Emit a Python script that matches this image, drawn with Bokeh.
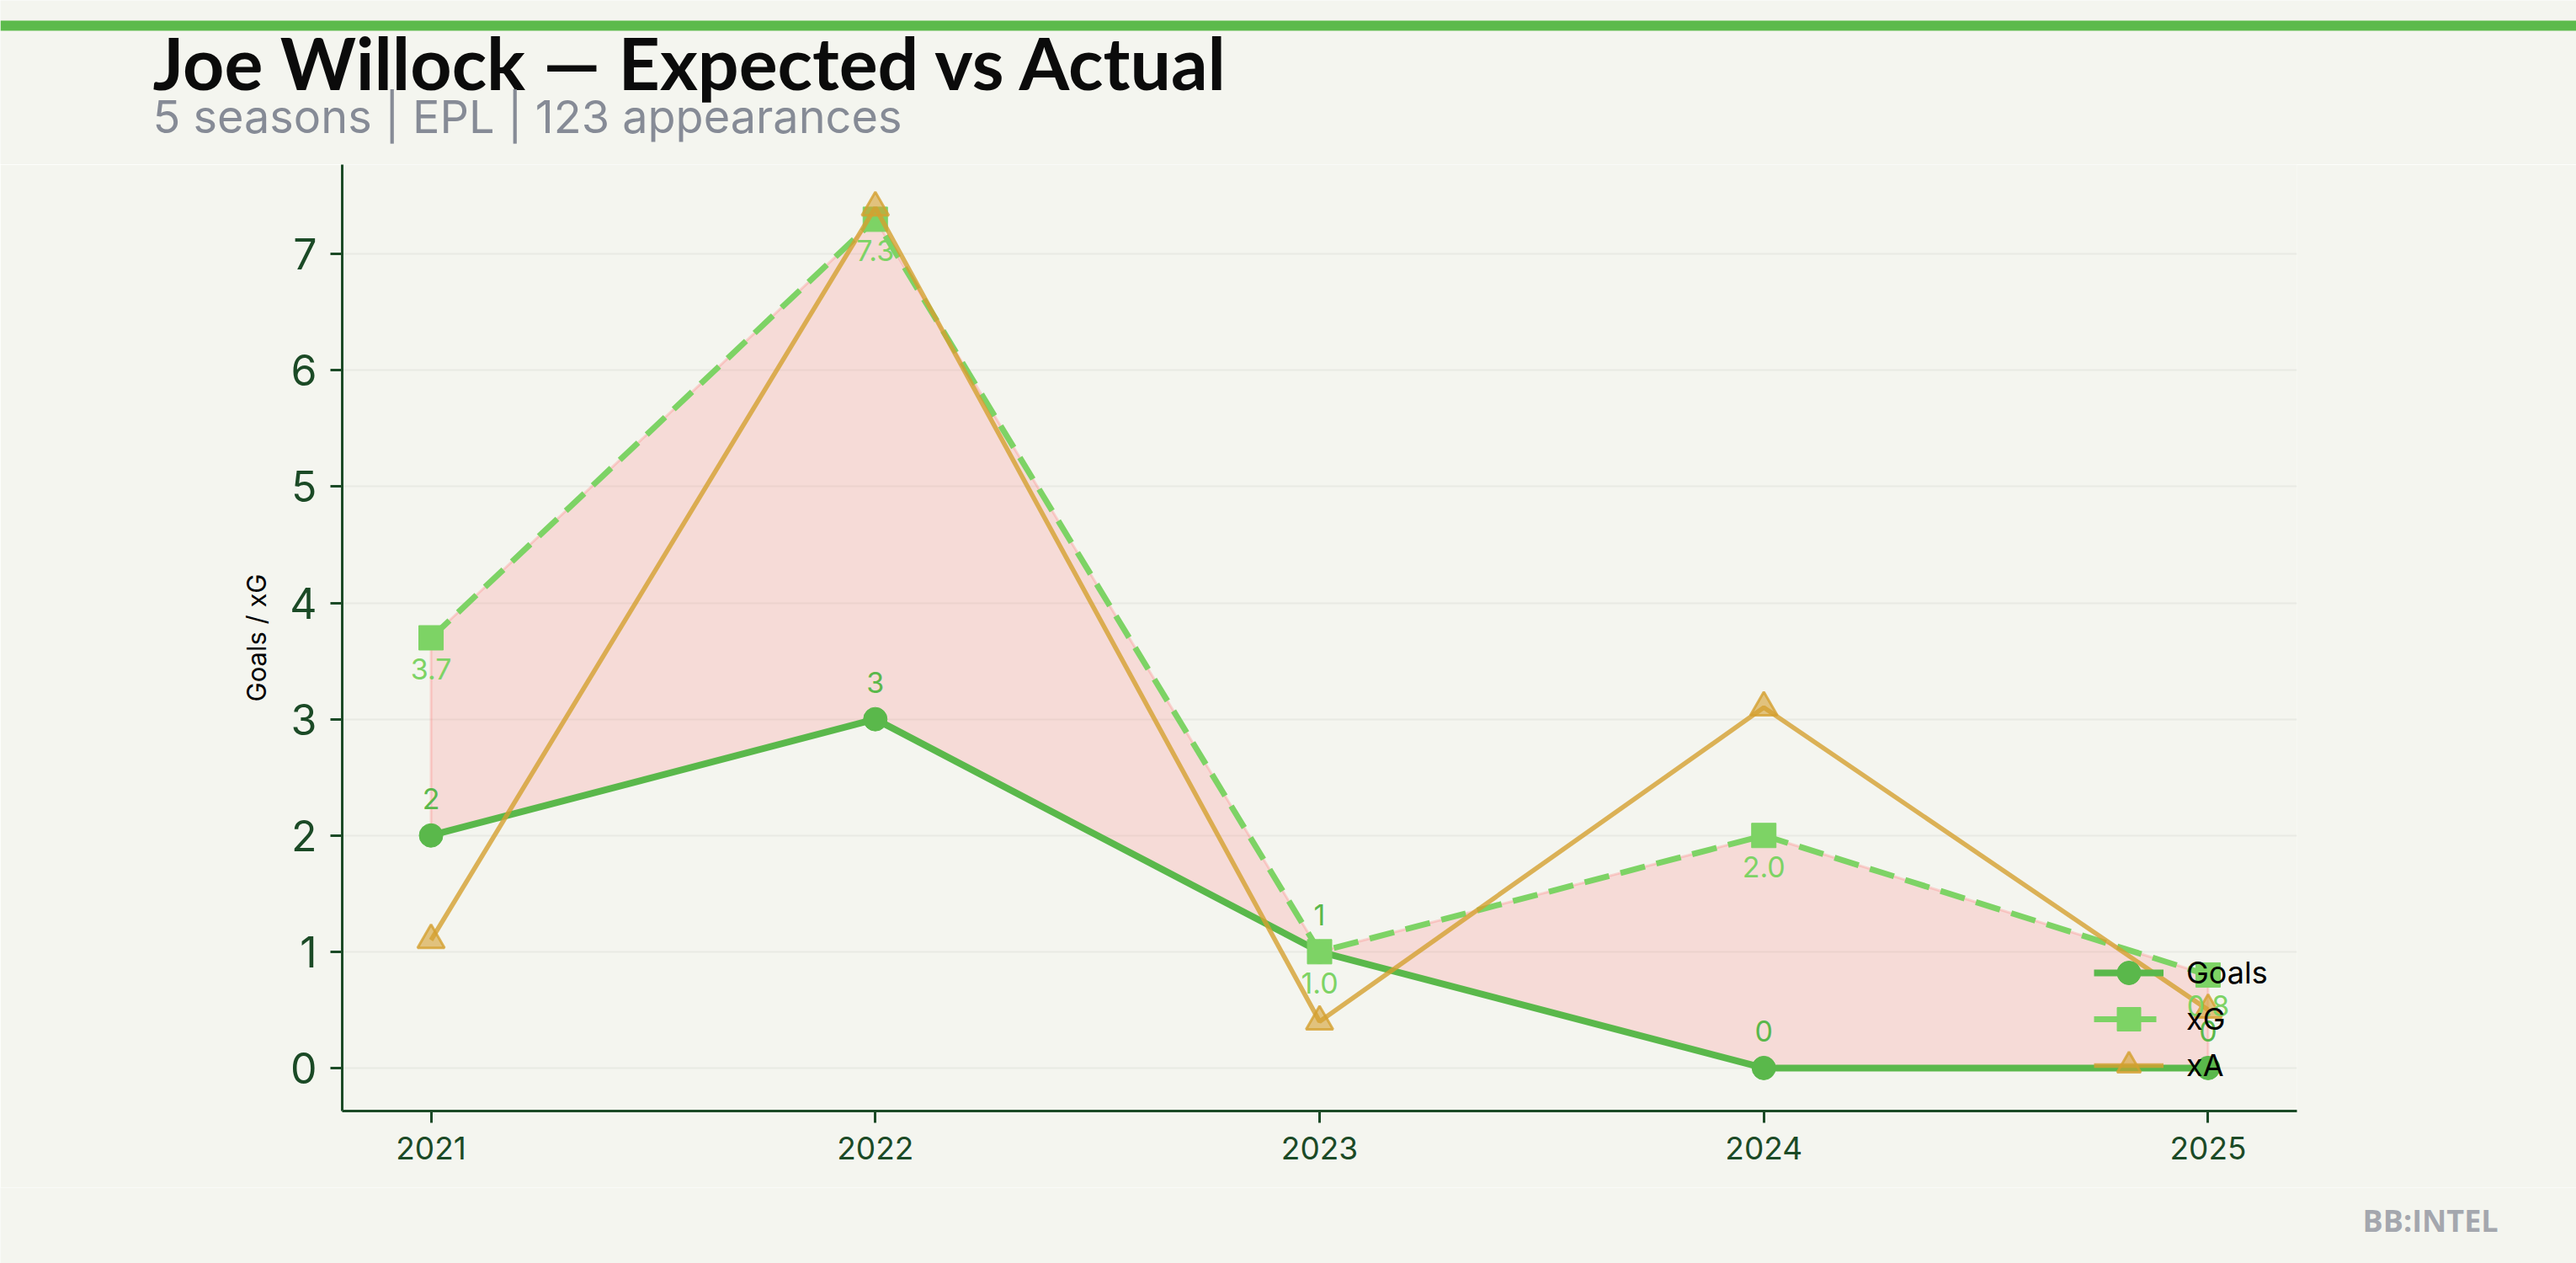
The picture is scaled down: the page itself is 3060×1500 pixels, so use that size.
from bokeh.plotting import figure
from bokeh.layouts import column
from bokeh.models import (Range1d, FixedTicker, Label, LabelSet, ColumnDataSource,
                          Legend, LegendItem)
from bokeh.core.properties import value
from bokeh.embed import file_html
from bokeh.resources import INLINE

# ---- data ----
seasons = [2021, 2022, 2023, 2024, 2025]
goals = [2, 3, 1, 0, 0]
xg = [3.7, 7.3, 1.0, 2.0, 0.8]
xa = [1.1, 7.4, 0.4, 3.1, 0.5]
y_ticks = [0, 1, 2, 3, 4, 5, 6, 7]
title_text = "Joe Willock \u2014 Expected vs Actual"
subtitle_text = "5 seasons | EPL | 123 appearances"
y_label = "Goals / xG"
series_names = ["Goals", "xG", "xA"]
watermark = "BB:INTEL"

BG = "#f4f5ef"
AXC = "#1b4a26"
C_GOALS = "#5ab84b"
C_XG = "#7dd365"
C_XA = "#d4a030"

W = 3060
H_HEAD, H_MAIN, H_FOOT = 195, 1215, 90


def blank(h):
    f = figure(width=W, height=h, output_backend="svg", toolbar_location=None,
               x_range=Range1d(0, W), y_range=Range1d(0, h),
               x_axis_type=None, y_axis_type=None, title=None,
               min_border=0, min_border_left=0, min_border_right=0,
               min_border_top=0, min_border_bottom=0)
    f.frame_align = False
    f.background_fill_color = BG
    f.border_fill_color = BG
    f.outline_line_color = None
    f.xgrid.visible = False
    f.ygrid.visible = False
    return f


# ---- header: accent bar, title, subtitle ----
head = blank(H_HEAD)
head.quad(left=[0], right=[W], bottom=[H_HEAD - 36], top=[H_HEAD - 24],
          fill_color="#5cba4c", line_color=None)
head.add_layout(Label(x=181, y=122, text=title_text, text_font="Lato",
                      text_font_style="bold", text_font_size="86px", text_color="#0b0b0b",
                      text_baseline="alphabetic", text_align="left"))
head.add_layout(Label(x=181, y=57, text=subtitle_text, text_font="Inter",
                      text_font_size="54px", text_color="#868b96",
                      text_baseline="alphabetic", text_align="left"))

# ---- main chart ----
p = figure(width=W, height=H_MAIN, output_backend="svg", toolbar_location=None, title=None,
           x_range=Range1d(2020.8, 2025.2), y_range=Range1d(-0.37, 7.77),
           min_border_left=406, min_border_right=332, min_border_top=0,
           min_border_bottom=91)
p.frame_align = False
p.background_fill_color = BG
p.border_fill_color = BG
p.outline_line_color = None

for ax in (p.xaxis[0], p.yaxis[0]):
    ax.axis_line_color = AXC
    ax.axis_line_width = 3
    ax.major_tick_line_color = AXC
    ax.major_tick_line_width = 3
    ax.major_tick_out = 14
    ax.major_tick_in = 0
    ax.minor_tick_line_color = None
    ax.major_label_text_color = AXC
    ax.major_label_text_font = "Inter"
    ax.major_label_standoff = 16
p.xaxis.ticker = FixedTicker(ticks=seasons)
p.xaxis.major_label_overrides = {s: str(s) for s in seasons}
p.xaxis.major_label_text_font_size = "37px"
p.yaxis.ticker = FixedTicker(ticks=y_ticks)
p.yaxis.major_label_text_font_size = "50px"
p.yaxis.axis_label = y_label
p.yaxis.axis_label_text_font = "Inter"
p.yaxis.axis_label_text_font_size = "31px"
p.yaxis.axis_label_text_font_style = "normal"
p.yaxis.axis_label_text_color = "black"
p.yaxis.axis_label_standoff = 18
p.xgrid.grid_line_color = None
p.ygrid.grid_line_color = "#e8eae3"
p.ygrid.grid_line_width = 2

# fill between goals and xG
p.patch(seasons + seasons[::-1], xg + goals[::-1], fill_color="#ff6b6b", fill_alpha=0.18,
        line_color="#ff6b6b", line_alpha=0.25, line_width=3)

r_gl = p.line(seasons, goals, line_color=C_GOALS, line_width=8)
r_gs = p.scatter(seasons, goals, marker="circle", size=28, fill_color=C_GOALS, line_color=C_GOALS)
r_xl = p.line(seasons, xg, line_color=C_XG, line_width=7, line_dash="30 14")
r_xs = p.scatter(seasons, xg, marker="square", size=29, fill_color=C_XG, line_color=C_XG)
r_al = p.line(seasons, xa, line_color=C_XA, line_alpha=0.8, line_width=5.5)
r_as = p.scatter(seasons, xa, marker="triangle", size=32, fill_color=C_XA, fill_alpha=0.6,
                 line_color=C_XA, line_alpha=0.8, line_width=3)

src = ColumnDataSource(dict(x=seasons, g=goals, xg=xg,
                            gl=[str(v) for v in goals], xgl=["%.1f" % v for v in xg]))
p.add_layout(LabelSet(x="x", y="g", text="gl", source=src, y_offset=44,
                      text_align="center", text_baseline="middle",
                      text_font=value("Inter"), text_font_size="34px", text_color=C_GOALS))
p.add_layout(LabelSet(x="x", y="xg", text="xgl", source=src, y_offset=-37,
                      text_align="center", text_baseline="middle",
                      text_font=value("Inter"), text_font_size="34px", text_color=C_XG))

# one legend per entry so rows can sit closer than the glyph box height
renderer_pairs = [[r_gl, r_gs], [r_xl, r_xs], [r_al, r_as]]
legend_bottoms = [129, 74, 19]
for name, rs, vy in zip(series_names, renderer_pairs, legend_bottoms):
    lg = Legend(items=[LegendItem(label=name, renderers=rs)],
                location=(2081, vy), background_fill_alpha=0, border_line_alpha=0,
                glyph_width=83, glyph_height=70, label_height=70, spacing=0,
                padding=0, margin=0, label_standoff=27,
                label_text_font="Inter", label_text_font_size="36px",
                label_text_color="black")
    p.add_layout(lg)

# ---- footer: watermark ----
foot = blank(H_FOOT)
foot.add_layout(Label(x=2806, y=51, text=watermark, text_font="Open Sans",
                      text_font_style="bold", text_font_size="36px", text_color="#a4a7ae",
                      text_baseline="alphabetic", text_align="left"))

layout = column(head, p, foot, spacing=0)
html = file_html(layout, INLINE)
html = html.replace("<body>", '<body style="background:%s;">' % BG, 1)
open("out.html", "w").write(html)
